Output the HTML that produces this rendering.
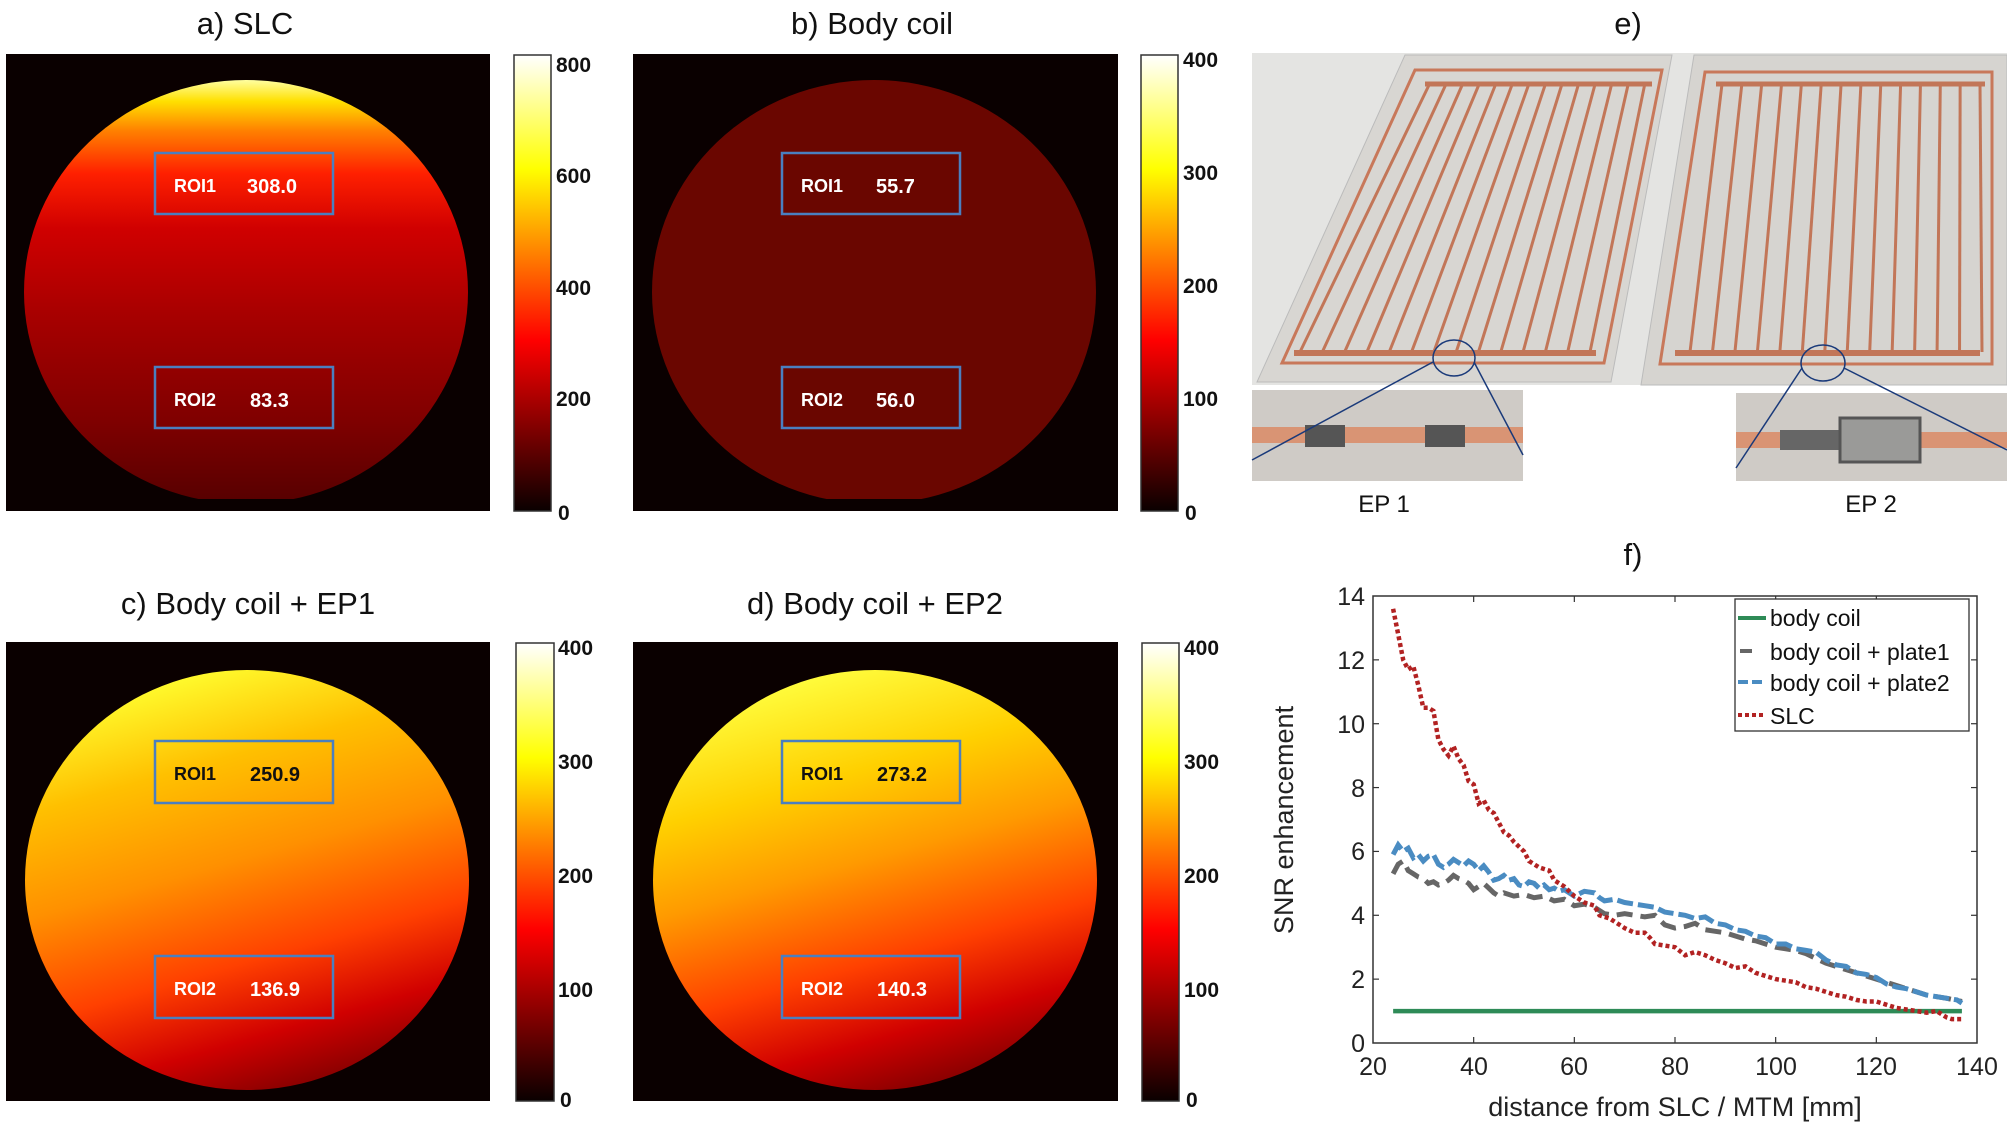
<!DOCTYPE html>
<html><head><meta charset="utf-8"><style>
html,body{margin:0;padding:0;background:#fff;width:2007px;height:1129px;overflow:hidden}
svg{display:block}
text{font-family:"Liberation Sans",sans-serif}
</style></head><body>
<svg id="s" width="2007" height="1129" viewBox="0 0 2007 1129" xmlns="http://www.w3.org/2000/svg">
<defs>
<linearGradient id="hot" x1="0" y1="1" x2="0" y2="0">
<stop offset="0" stop-color="#0a0000"/><stop offset="0.375" stop-color="#ff0000"/><stop offset="0.75" stop-color="#ffff00"/><stop offset="1" stop-color="#ffffff"/>
</linearGradient>
<linearGradient id="ga" x1="0" y1="0" x2="0" y2="1">
<stop offset="0" stop-color="#ffffa0"/><stop offset="0.05" stop-color="#ffe000"/><stop offset="0.12" stop-color="#ff8000"/><stop offset="0.22" stop-color="#ff2000"/><stop offset="0.35" stop-color="#d00000"/><stop offset="0.55" stop-color="#a80000"/><stop offset="0.8" stop-color="#800000"/><stop offset="1" stop-color="#560000"/>
</linearGradient>
<linearGradient id="gc" x1="0.35" y1="0" x2="0.65" y2="1">
<stop offset="0" stop-color="#ffff30"/><stop offset="0.22" stop-color="#ffc000"/><stop offset="0.45" stop-color="#ff9000"/><stop offset="0.68" stop-color="#ff4000"/><stop offset="0.85" stop-color="#d00000"/><stop offset="1" stop-color="#800000"/>
</linearGradient>
<linearGradient id="gd" x1="0.35" y1="0" x2="0.65" y2="1">
<stop offset="0" stop-color="#ffff40"/><stop offset="0.25" stop-color="#ffd000"/><stop offset="0.45" stop-color="#ff9a00"/><stop offset="0.68" stop-color="#ff4000"/><stop offset="0.85" stop-color="#d00000"/><stop offset="1" stop-color="#800000"/>
</linearGradient>
</defs>

<g font-size="31" fill="#111" text-anchor="middle">
<text x="245" y="34" font-family="DejaVu Sans, sans-serif">a) SLC</text>
<text x="872" y="34" font-family="DejaVu Sans, sans-serif">b) Body coil</text>
<text x="248" y="614" font-family="DejaVu Sans, sans-serif">c) Body coil + EP1</text>
<text x="875" y="614" font-family="DejaVu Sans, sans-serif">d) Body coil + EP2</text>
<text x="1628" y="34" font-family="DejaVu Sans, sans-serif">e)</text>
<text x="1633" y="565" font-family="DejaVu Sans, sans-serif">f)</text>
</g>

<rect x="6" y="54" width="484" height="457" fill="#0a0000"/>
<ellipse cx="246" cy="292" rx="222" ry="212" fill="url(#ga)"/>
<rect x="6" y="499" width="484" height="12" fill="#0a0000"/>
<rect x="633" y="54" width="485" height="457" fill="#0a0000"/>
<ellipse cx="874" cy="292" rx="222" ry="212" fill="#6a0600"/>
<rect x="633" y="499" width="485" height="12" fill="#0a0000"/>
<rect x="6" y="642" width="484" height="459" fill="#0a0000"/>
<ellipse cx="247" cy="880" rx="222" ry="210" fill="url(#gc)"/>
<rect x="633" y="642" width="485" height="459" fill="#0a0000"/>
<ellipse cx="875" cy="880" rx="222" ry="210" fill="url(#gd)"/>

<g fill="none" stroke="#4a7fc0" stroke-width="2.5">
<rect x="155" y="153" width="178" height="61"/><rect x="155" y="367" width="178" height="61"/>
<rect x="782" y="153" width="178" height="61"/><rect x="782" y="367" width="178" height="61"/>
<rect x="155" y="741" width="178" height="62"/><rect x="155" y="956" width="178" height="62"/>
<rect x="782" y="741" width="178" height="62"/><rect x="782" y="956" width="178" height="62"/>
</g>
<g font-weight="bold" font-size="18">
<text x="174" y="192" fill="#fff">ROI1</text><text x="247" y="193" fill="#fff" font-size="20">308.0</text>
<text x="174" y="406" fill="#fff">ROI2</text><text x="250" y="407" fill="#fff" font-size="20">83.3</text>
<text x="801" y="192" fill="#fff">ROI1</text><text x="876" y="193" fill="#fff" font-size="20">55.7</text>
<text x="801" y="406" fill="#fff">ROI2</text><text x="876" y="407" fill="#fff" font-size="20">56.0</text>
<text x="174" y="780" fill="#111">ROI1</text><text x="250" y="781" fill="#111" font-size="20">250.9</text>
<text x="174" y="995" fill="#fff">ROI2</text><text x="250" y="996" fill="#fff" font-size="20">136.9</text>
<text x="801" y="780" fill="#111">ROI1</text><text x="877" y="781" fill="#111" font-size="20">273.2</text>
<text x="801" y="995" fill="#fff">ROI2</text><text x="877" y="996" fill="#fff" font-size="20">140.3</text>
</g>

<g stroke="#333" stroke-width="1.5">
<rect x="514" y="55" width="37" height="456" fill="url(#hot)"/>
<rect x="1141" y="55" width="37" height="456" fill="url(#hot)"/>
<rect x="516" y="643" width="38" height="458" fill="url(#hot)"/>
<rect x="1142" y="643" width="37" height="458" fill="url(#hot)"/>
</g>
<g font-size="21" font-weight="bold" fill="#111">
<text x="556" y="72">800</text><text x="556" y="183">600</text><text x="556" y="295">400</text><text x="556" y="406">200</text><text x="558" y="520">0</text>
<text x="1183" y="67">400</text><text x="1183" y="180">300</text><text x="1183" y="293">200</text><text x="1183" y="406">100</text><text x="1185" y="520">0</text>
<text x="558" y="655">400</text><text x="558" y="769">300</text><text x="558" y="883">200</text><text x="558" y="997">100</text><text x="560" y="1107">0</text>
<text x="1184" y="655">400</text><text x="1184" y="769">300</text><text x="1184" y="883">200</text><text x="1184" y="997">100</text><text x="1186" y="1107">0</text>
</g>

<rect x="1252" y="53" width="755" height="332" fill="#e4e4e2"/>
<polygon points="1405,55 1672,55 1611,382 1257,382" fill="#d8d6d2" stroke="#bbb"/>
<polygon points="1694,55 2007,55 2007,385 1641,385" fill="#d6d4d0" stroke="#bbb"/>
<g fill="none" stroke="#c8785a" stroke-width="3">
<path d="M1415,70 L1662,70 L1604,363 L1282,363 Z"/>
<path d="M1705,72 L1992,72 L1992,364 L1660,364 Z"/>
</g>
<g id="lines1" stroke="#c27658" stroke-width="3"></g>
<rect x="1252" y="390" width="271" height="91" fill="#cfcbc6"/>
<rect x="1252" y="427" width="271" height="16" fill="#d99474"/>
<rect x="1305" y="425" width="40" height="22" fill="#555"/><rect x="1425" y="425" width="40" height="22" fill="#555"/>
<rect x="1736" y="393" width="271" height="88" fill="#cfcbc6"/>
<rect x="1736" y="432" width="271" height="16" fill="#d99474"/>
<rect x="1780" y="430" width="60" height="20" fill="#666"/>
<rect x="1840" y="418" width="80" height="44" fill="#9a9a98" stroke="#555" stroke-width="3"/>
<g stroke="#1a3a7a" stroke-width="1.5" fill="none">
<ellipse cx="1454" cy="358" rx="21" ry="18"/>
<line x1="1433" y1="362" x2="1252" y2="460"/><line x1="1474" y1="362" x2="1523" y2="455"/>
<ellipse cx="1823" cy="363" rx="22" ry="18"/>
<line x1="1802" y1="368" x2="1736" y2="468"/><line x1="1844" y1="368" x2="2007" y2="450"/>
</g>
<text x="1384" y="512" font-size="24" text-anchor="middle" font-family="DejaVu Sans, sans-serif" fill="#111">EP 1</text>
<text x="1871" y="512" font-size="24" text-anchor="middle" font-family="DejaVu Sans, sans-serif" fill="#111">EP 2</text>

<rect x="1373" y="596" width="604" height="447" fill="#fff" stroke="#333" stroke-width="1.5"/>
<g id="ticks" stroke="#333" stroke-width="1.2"></g>
<g font-size="25" fill="#222">
<g text-anchor="end">
<text x="1365" y="1052">0</text><text x="1365" y="988">2</text><text x="1365" y="924">4</text><text x="1365" y="860">6</text><text x="1365" y="797">8</text><text x="1365" y="733">10</text><text x="1365" y="669">12</text><text x="1365" y="605">14</text>
</g>
<g text-anchor="middle">
<text x="1373" y="1075">20</text><text x="1474" y="1075">40</text><text x="1574" y="1075">60</text><text x="1675" y="1075">80</text><text x="1776" y="1075">100</text><text x="1876" y="1075">120</text><text x="1977" y="1075">140</text>
</g>
<text x="1675" y="1116" text-anchor="middle" font-size="27">distance from SLC / MTM [mm]</text>
<text transform="translate(1293,820) rotate(-90)" text-anchor="middle" font-size="27">SNR enhancement</text>
</g>
<g id="series" fill="none"></g>
<rect x="1735" y="599" width="234" height="132" fill="#fff" stroke="#333" stroke-width="1.3"/>
<g stroke-width="4">
<line x1="1738" y1="618" x2="1766" y2="618" stroke="#2e8b57"/>
<line x1="1740" y1="651" x2="1752" y2="651" stroke="#666"/>
<line x1="1738" y1="682" x2="1766" y2="682" stroke="#4a8cc2" stroke-dasharray="10,4"/>
<line x1="1738" y1="715" x2="1766" y2="715" stroke="#b22222" stroke-dasharray="4,3"/>
</g>
<g font-size="23" fill="#111">
<text x="1770" y="626">body coil</text><text x="1770" y="660">body coil + plate1</text><text x="1770" y="691">body coil + plate2</text><text x="1770" y="724">SLC</text>
</g>
</svg>
<script>
var NS="http://www.w3.org/2000/svg";
function el(p,t,a){var e=document.createElementNS(NS,t);for(var k in a)e.setAttribute(k,a[k]);p.appendChild(e);return e;}
var X=function(x){return 1373+(x-20)*604/120},Y=function(y){return 1043-y*447/14};
var tk=document.getElementById('ticks');
for(var x=40;x<140;x+=20){el(tk,'line',{x1:X(x),y1:1043,x2:X(x),y2:1037});el(tk,'line',{x1:X(x),y1:596,x2:X(x),y2:602});}
for(var y=2;y<14;y+=2){el(tk,'line',{x1:1373,y1:Y(y),x2:1379,y2:Y(y)});el(tk,'line',{x1:1977,y1:Y(y),x2:1971,y2:Y(y)});}
function path(d){return d.map(function(p,i){return (i?'L':'M')+X(p[0]).toFixed(1)+','+Y(p[1]).toFixed(1)}).join(' ');}
var slc=[[24,13.6],[25,12.8],[26,12],[27,11.7],[28,11.8],[29,11.2],[30,10.5],[31,10.5],[32,10.4],[33,9.5],[34,9.2],[35,9],[36,9.3],[37,8.9],[38,8.7],[39,8.2],[40,8.1],[41,7.5],[42,7.6],[43,7.3],[44,7.2],[46,6.6],[47,6.5],[48,6.3],[50,6],[51,5.7],[53,5.5],[55,5.4],[56,5.1],[58,4.9],[60,4.6],[62,4.4],[64,4.3],[65,4],[67,3.9],[68,3.8],[70,3.6],[72,3.45],[74,3.45],[75,3.3],[76,3.1],[78,3.05],[80,3],[82,2.75],[84,2.85],[86,2.75],[88,2.6],[90,2.5],[92,2.35],[94,2.4],[96,2.2],[98,2.1],[100,2],[102,1.95],[104,1.9],[106,1.75],[108,1.7],[110,1.6],[112,1.5],[114,1.45],[116,1.35],[118,1.3],[120,1.3],[122,1.2],[124,1.1],[126,1.05],[128,1],[130,0.95],[132,1],[134,0.8],[135,0.75],[137,0.75]];
var p2=[[24,5.9],[25,6.2],[26,6.0],[27,6.1],[28,5.8],[29,5.9],[30,5.7],[31,5.85],[32,5.9],[33,5.6],[34,5.5],[35,5.6],[36,5.75],[37,5.65],[38,5.55],[39,5.7],[40,5.6],[41,5.4],[42,5.55],[43,5.35],[44,5.1],[45,5.15],[46,5.25],[47,5.1],[48,5.15],[49,4.95],[50,4.9],[51,5.05],[52,5.0],[53,4.85],[54,4.95],[55,4.8],[56,4.85],[57,4.75],[58,4.8],[60,4.6],[62,4.75],[64,4.7],[65,4.55],[66,4.45],[68,4.5],[70,4.4],[72,4.35],[74,4.3],[76,4.25],[78,4.1],[80,4.05],[82,4],[84,3.9],[86,3.95],[88,3.75],[90,3.7],[92,3.55],[94,3.5],[96,3.35],[98,3.3],[100,3.1],[102,3.1],[104,2.95],[106,2.9],[108,2.85],[110,2.6],[112,2.45],[114,2.4],[116,2.2],[118,2.15],[120,2.05],[122,1.85],[124,1.75],[126,1.7],[128,1.6],[130,1.5],[132,1.45],[134,1.4],[136,1.35],[137,1.25]];
var p1=[[24,5.3],[25,5.6],[26,5.7],[27,5.4],[28,5.3],[29,5.2],[30,5.15],[31,5.0],[32,5.05],[33,4.95],[34,5.0],[35,5.1],[36,5.25],[37,5.15],[38,5.1],[39,5.0],[40,4.8],[41,4.9],[42,5.0],[43,4.85],[44,4.7],[45,4.6],[46,4.7],[48,4.6],[50,4.65],[52,4.55],[54,4.6],[56,4.45],[58,4.5],[60,4.3],[62,4.35],[64,4.25],[66,4.05],[68,4.0],[70,4.05],[72,4.0],[74,3.95],[76,4.0],[78,3.7],[80,3.6],[82,3.65],[84,3.75],[86,3.55],[88,3.5],[90,3.45],[92,3.35],[94,3.25],[96,3.2],[98,3.1],[100,3.0],[102,2.95],[104,2.9],[106,2.8],[108,2.65],[110,2.5],[112,2.4],[114,2.3],[116,2.2],[118,2.1],[120,2.0],[122,1.9],[124,1.8],[126,1.7],[128,1.6],[130,1.5],[132,1.45],[134,1.4],[137,1.3]];
var s=document.getElementById('series');
el(s,'line',{x1:X(24),y1:Y(1),x2:X(137),y2:Y(1),stroke:'#2e8b57','stroke-width':4.5});
el(s,'path',{d:path(p1),stroke:'#666','stroke-width':5,'stroke-dasharray':'16,8'});
el(s,'path',{d:path(p2),stroke:'#4a8cc2','stroke-width':5,'stroke-dasharray':'16,5'});
el(s,'path',{d:path(slc),stroke:'#b22222','stroke-width':4.5,'stroke-dasharray':'4,3'});
var L=document.getElementById('lines1');
for(var i=0;i<14;i++){var t=i/13;
 var xt=1430+t*215, xb=1300+t*290;
 el(L,'line',{x1:xt,y1:83,x2:xb,y2:352});
 var xt2=1722+t*258, xb2=1690+t*292;
 el(L,'line',{x1:xt2,y1:84,x2:xb2,y2:352});}
el(L,'line',{x1:1425,y1:84,x2:1652,y2:84,'stroke-width':5});
el(L,'line',{x1:1294,y1:353,x2:1596,y2:353,'stroke-width':6});
el(L,'line',{x1:1716,y1:84,x2:1985,y2:84,'stroke-width':5});
el(L,'line',{x1:1675,y1:353,x2:1980,y2:353,'stroke-width':6});
</script>
</body></html>
